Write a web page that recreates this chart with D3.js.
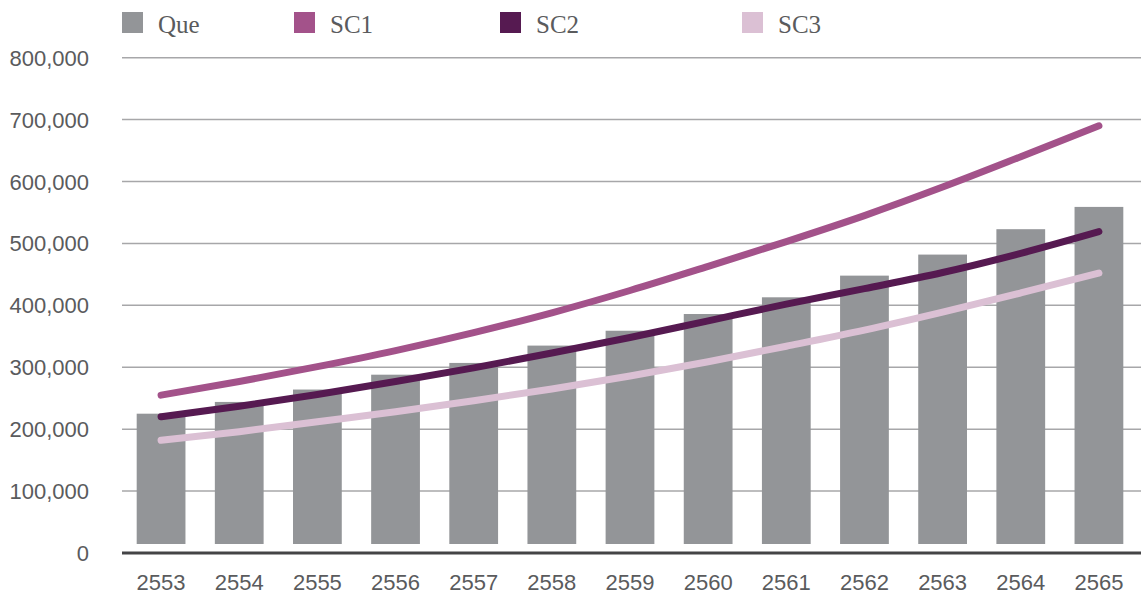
<!DOCTYPE html>
<html>
<head>
<meta charset="utf-8">
<script src="https://cdn.jsdelivr.net/npm/d3@7"></script>
<style>
  body { margin: 0; background: #fff; }
  svg { display: block; }
</style>
</head>
<body>
<svg id="chart" width="1141" height="595"></svg>
<script>
// Data
var years = ["2553","2554","2555","2556","2557","2558","2559","2560","2561","2562","2563","2564","2565"];
var que = [225000,244000,264000,288000,307000,335000,359000,386000,413000,448000,482000,523000,559000];
var sc1 = [255000,277000,301000,327000,356000,388000,424000,463000,503000,545000,591000,640000,690000];
var sc2 = [220000,237000,256000,277000,299000,323000,348000,375000,402000,427000,453000,484000,519000];
var sc3 = [182000,196000,212000,228000,246000,265000,286000,309000,334000,360000,389000,420000,452000];
var yTicks = [0,100000,200000,300000,400000,500000,600000,700000,800000];

var series = [
	{name:"SC1", values:sc1, color:"#a3528a"},
	{name:"SC2", values:sc2, color:"#561a51"},
	{name:"SC3", values:sc3, color:"#dbc0d4"}
];
var legendItems = [
	{name:"Que", color:"#939598", x:122},
	{name:"SC1", color:"#a3528a", x:294},
	{name:"SC2", color:"#561a51", x:500},
	{name:"SC3", color:"#dbc0d4", x:742}
];

var svg = d3.select("#chart");
var left = 122, right = 1141;

var x = d3.scaleBand().domain(years).range([122,1138]).paddingInner(0.376).paddingOuter(0.188);
var y = d3.scaleLinear().domain([0,800000]).range([553,57.7]);

// gridlines
svg.append("g").selectAll("line.grid").data(yTicks.filter(d => d>0)).enter()
	.append("line")
	.attr("class","grid")
	.attr("x1",left).attr("x2",right)
	.attr("y1",d => y(d)).attr("y2",d => y(d))
	.style("stroke","#a7a7a9")
	.style("stroke-width",1.5);

// y labels
var fmt = d3.format(",");
svg.append("g").selectAll("text.ylab").data(yTicks).enter()
	.append("text")
	.attr("class","ylab")
	.attr("x",89)
	.attr("y",d => y(d)+8)
	.attr("text-anchor","end")
	.style("font-family","'Liberation Sans', Arial, sans-serif")
	.style("font-size","22px")
	.style("fill","#5a5b5d")
	.text(d => fmt(d));

// bars (they stop a little above the axis line, as in the reference)
svg.append("g").selectAll("rect.bar").data(que).enter()
	.append("rect")
	.attr("class","bar")
	.attr("x",(d,i) => x(years[i]))
	.attr("width",x.bandwidth())
	.attr("y",d => y(d))
	.attr("height",d => y(0)-9-y(d))
	.style("fill","#939598");

// axis line
svg.append("line")
	.attr("x1",left).attr("x2",right)
	.attr("y1",y(0)).attr("y2",y(0))
	.style("stroke","#444446")
	.style("stroke-width",3);

// x labels
svg.append("g").selectAll("text.xlab").data(years).enter()
	.append("text")
	.attr("class","xlab")
	.attr("x",d => x(d)+x.bandwidth()/2)
	.attr("y",590)
	.attr("text-anchor","middle")
	.style("font-family","'Liberation Sans', Arial, sans-serif")
	.style("font-size","22px")
	.style("fill","#5a5b5d")
	.text(d => d);

// lines
var line = d3.line()
	.x((d,i) => x(years[i])+x.bandwidth()/2)
	.y(d => y(d))
	.curve(d3.curveMonotoneX);

svg.append("g").selectAll("path.series").data(series).enter()
	.append("path")
	.attr("class","series")
	.attr("d",d => line(d.values))
	.style("fill","none")
	.style("stroke",d => d.color)
	.style("stroke-width",7)
	.style("stroke-linecap","round")
	.style("stroke-linejoin","round");

// legend
var lg = svg.append("g").selectAll("g.legend").data(legendItems).enter()
	.append("g")
	.attr("class","legend")
	.attr("transform",d => "translate("+d.x+",12)");
lg.append("rect")
	.attr("width",21).attr("height",21)
	.style("fill",d => d.color);
lg.append("text")
	.attr("x",36)
	.attr("y",21)
	.style("font-family","'Liberation Serif', 'Times New Roman', serif")
	.style("font-size","25px")
	.style("fill","#5a5b5d")
	.text(d => d.name);
</script>
</body>
</html>
